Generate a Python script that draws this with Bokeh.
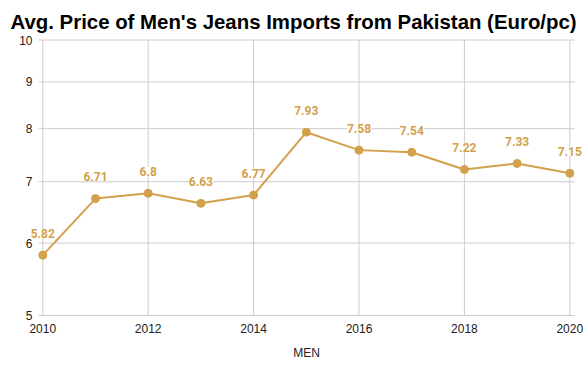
import math
from bokeh.plotting import figure
from bokeh.models import ColumnDataSource, LabelSet, FixedTicker, PrintfTickFormatter, Range1d
from bokeh.embed import file_html
from bokeh.resources import INLINE

years = [2010, 2011, 2012, 2013, 2014, 2015, 2016, 2017, 2018, 2019, 2020]
prices = [5.82, 6.71, 6.8, 6.63, 6.77, 7.93, 7.58, 7.54, 7.22, 7.33, 7.15]
price_labels = ["5.82", "6.71", "6.8", "6.63", "6.77", "7.93", "7.58", "7.54", "7.22", "7.33", "7.15"]
y_ticks = [5, 6, 7, 8, 9, 10]
x_ticks = [2010, 2012, 2014, 2016, 2018, 2020]

COLOR = "#d3a04b"
GRID = "#cccccc"

# layout (pixels): plot area inside a frame that covers the whole page below the title
W, H = 585, 371
FRAME_TOP = 35
AREA_TOP, AREA_BOTTOM = 39.5, 315.0
AREA_LEFT, AREA_RIGHT = 38.0, 574.0
X_FIRST_PX, X_LAST_PX = 42.3, 569.3

x0, x1 = min(x_ticks), max(x_ticks)
ppx = (X_LAST_PX - X_FIRST_PX) / (x1 - x0)
x_range = Range1d(x0 - X_FIRST_PX / ppx, x1 + (W - X_LAST_PX) / ppx)
gx0 = x0 - (X_FIRST_PX - AREA_LEFT) / ppx
gx1 = x1 + (AREA_RIGHT - X_LAST_PX) / ppx

y0, y1 = min(y_ticks), max(y_ticks)
lpp = math.log(y1 / y0) / (AREA_BOTTOM - AREA_TOP)
y_range = Range1d(y0 * math.exp(-(H - AREA_BOTTOM) * lpp), y1 * math.exp((AREA_TOP - FRAME_TOP) * lpp))

src = ColumnDataSource(data=dict(x=years, y=prices, t=price_labels))

p = figure(width=W, height=H, y_axis_type="log", x_range=x_range, y_range=y_range,
           output_backend="svg", toolbar_location=None,
           min_border_left=0, min_border_right=0, min_border_bottom=0, min_border_top=FRAME_TOP,
           title="Avg. Price of Men's Jeans Imports from Pakistan (Euro/pc)")

p.title.text_font = "Liberation Sans"
p.title.text_font_size = "20.4px"
p.title.text_font_style = "bold"
p.title.text_color = "#000000"
p.title.offset = 10
p.title.standoff = 5

p.outline_line_color = None
p.background_fill_color = "white"
p.border_fill_color = "white"
p.xgrid.grid_line_color = None
p.ygrid.grid_line_color = None

# grid lines limited to the plot area
p.segment(x0=[gx0] * len(y_ticks), y0=y_ticks, x1=[gx1] * len(y_ticks), y1=y_ticks,
          line_color=GRID, line_width=1)
p.segment(x0=x_ticks, y0=[y0] * len(x_ticks), x1=x_ticks, y1=[y1] * len(x_ticks),
          line_color=GRID, line_width=1)

p.line("x", "y", source=src, line_color=COLOR, line_width=2)
p.scatter("x", "y", source=src, size=8, fill_color=COLOR, line_color=COLOR)

labels = LabelSet(x="x", y="y", text="t", source=src, y_offset=22,
                  text_align="center", text_baseline="middle",
                  text_font={"value": "Roboto"}, text_font_size={"value": "12px"},
                  text_font_style="bold",
                  text_color=COLOR, background_fill_color="white",
                  background_fill_alpha=0.9)
p.add_layout(labels)

p.yaxis.ticker = FixedTicker(ticks=y_ticks)
p.yaxis.formatter = PrintfTickFormatter(format="%d")
p.yaxis.fixed_location = gx0
p.xaxis.ticker = FixedTicker(ticks=x_ticks)
p.xaxis.fixed_location = y0
p.xaxis.bounds = (gx0, gx1)

for ax in (p.xaxis, p.yaxis):
    ax.axis_line_color = None
    ax.major_tick_line_color = None
    ax.minor_tick_line_color = None
    ax.major_tick_out = 0
    ax.major_tick_in = 0
    ax.major_label_text_font = "Liberation Sans"
    ax.major_label_text_font_size = "12px"
    ax.major_label_text_color = "#222222"

p.yaxis.major_label_standoff = 6
p.xaxis.major_label_standoff = 8
p.xaxis.axis_label = "MEN"
p.xaxis.axis_label_text_font = "Liberation Sans"
p.xaxis.axis_label_text_font_size = "12px"
p.xaxis.axis_label_text_font_style = "normal"
p.xaxis.axis_label_text_color = "#222222"
p.xaxis.axis_label_standoff = 10

open("out.html", "w").write(file_html(p, INLINE))
